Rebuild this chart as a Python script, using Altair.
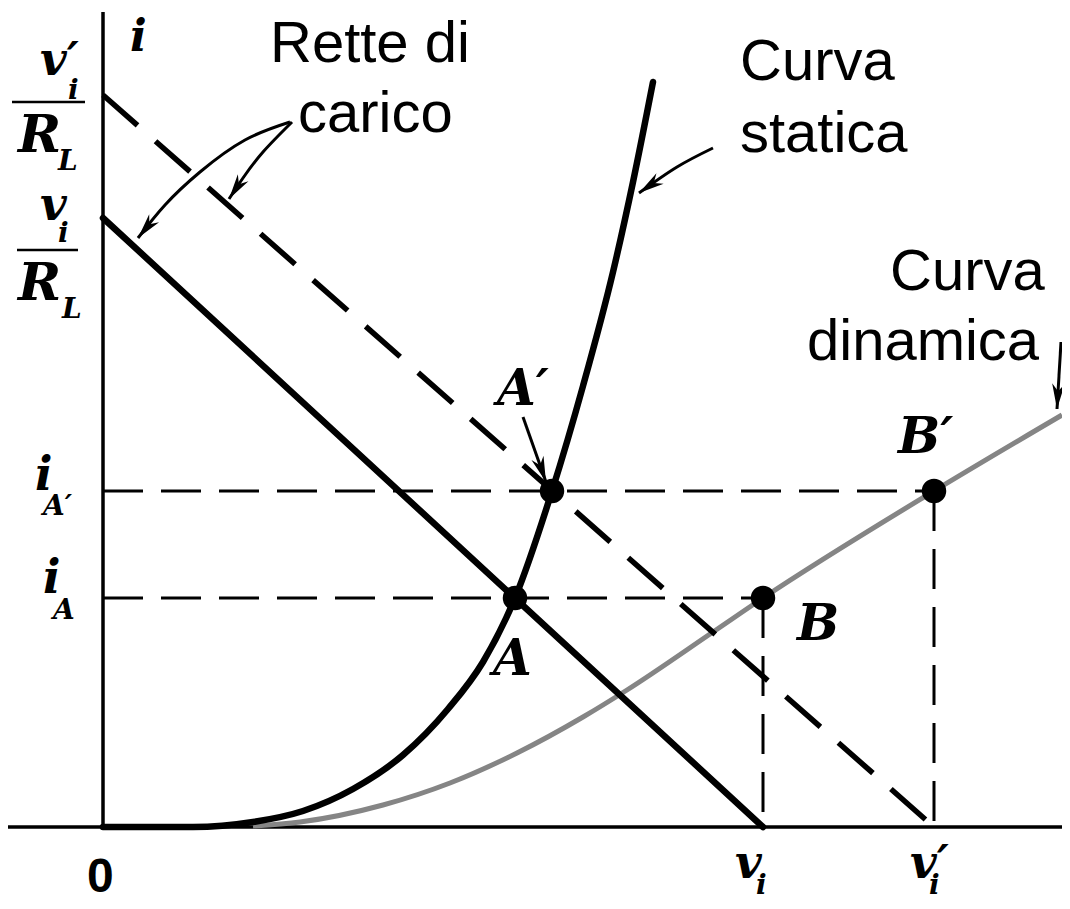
import math
import altair as alt
import pandas as pd

# ---------------- data ----------------
# static characteristic (thick black)
STATIC_X = [0, 90, 150, 200, 250, 300, 345, 380, 412, 449, 480, 510, 530, 550]
STATIC_Y = [0, 0, 5, 16, 38, 72, 118, 165, 229, 336, 441, 555, 645, 745]
# dynamic characteristic (grey)
DYN_X = [150, 197, 280, 347, 414, 480, 524, 610, 660, 831, 959]
DYN_Y = [1, 5, 22, 44, 74, 110, 137, 195, 229, 336, 412]

# load lines
VI, VI_P = 660, 831          # v_i , v_i'
VI_RL, VI_P_RL = 609, 732    # v_i/R_L , v_i'/R_L
I_A, I_AP = 229, 336         # i_A , i_A'

# operating points
POINT_X = [412, 449, 660, 831]
POINT_Y = [229, 336, 229, 336]

# annotation arrows
ARROWS = [
    ([187, 142, 97, 62, 35], [705, 687, 655, 622, 589]),
    ([189, 160, 140, 126], [705, 675, 649, 628]),
    ([420, 443], [410, 345]),
    ([610, 574, 536], [679, 660, 634]),
    ([958, 954], [485, 418]),
]

# plain (sans) labels
SANS_TEXT = ["Rette di", "carico", "Curva", "statica", "Curva", "dinamica"]
SANS_X = [167, 195, 637, 637, 787, 704]
SANS_Y = [765, 695, 747, 675, 537, 467]

# math (bold italic serif) labels
MATH_TEXT = ["i", "v′", "v", "i", "i", "v", "v′",
             "A", "A′", "B", "B′", "R", "R",
             "i", "L", "i", "L", "A′", "A", "i", "i"]
MATH_X = [27, -63, -63, -68, -60, 632, 807,
          390, 394, 694, 795, -85, -85,
          -35, -45, -45, -41, -60, -50, 653, 826]
MATH_Y = [776, 752, 607, 337, 234, -51, -51,
          152, 422, 187, 374, 675, 527,
          728, 657, 585, 509, 312, 208, -67, -67]
MATH_SIZE = [44, 46, 46, 46, 46, 46, 46,
             50, 50, 50, 50, 52, 52,
             28, 28, 28, 28, 28, 28, 28, 28]

# fraction bars on the i axis
FRAC_X = [-91, -86]
FRAC_X2 = [-18, -25]
FRAC_Y = [725, 577]

# ---------------- scales ----------------
W, H = 1054, 893
XS = alt.Scale(domain=[-95, 959], nice=False, zero=False)
YS = alt.Scale(domain=[-74, 819], nice=False, zero=False)


def xe(f="x"):
    return alt.X(f"{f}:Q", scale=XS, axis=None)


def ye(f="y"):
    return alt.Y(f"{f}:Q", scale=YS, axis=None)


layers = []

# axes
axes_df = pd.DataFrame({"x": [0, -95], "x2": [0, 959], "y": [0, 0], "y2": [815, 0]})
layers.append(alt.Chart(axes_df).mark_rule(color="black", strokeWidth=3.5).encode(
    x=xe(), x2="x2:Q", y=ye(), y2="y2:Q"))

# thin dashed projection lines
proj_df = pd.DataFrame({
    "x": [0, 0, VI, VI_P], "x2": [VI, VI_P, VI, VI_P],
    "y": [I_A, I_AP, I_A, I_AP], "y2": [I_A, I_AP, 0, 0]})
layers.append(alt.Chart(proj_df).mark_rule(color="black", strokeWidth=3, strokeDash=[40, 18]).encode(
    x=xe(), x2="x2:Q", y=ye(), y2="y2:Q"))

# dynamic curve (grey)
dyn_df = pd.DataFrame({"x": DYN_X, "y": DYN_Y})
layers.append(alt.Chart(dyn_df).mark_line(color="#858585", strokeWidth=5, interpolate="monotone").encode(
    x=xe(), y=ye()))

# load lines
solid_df = pd.DataFrame({"x": [0, VI], "y": [VI_RL, 0]})
layers.append(alt.Chart(solid_df).mark_line(color="black", strokeWidth=6.5, strokeCap="round").encode(
    x=xe(), y=ye()))
dash_df = pd.DataFrame({"x": [0, VI_P], "y": [VI_P_RL, 0]})
layers.append(alt.Chart(dash_df).mark_line(color="black", strokeWidth=5.5, strokeDash=[46, 24]).encode(
    x=xe(), y=ye()))

# static curve
stat_df = pd.DataFrame({"x": STATIC_X, "y": STATIC_Y})
layers.append(alt.Chart(stat_df).mark_line(color="black", strokeWidth=6.5, interpolate="monotone",
                                           strokeCap="round").encode(x=xe(), y=ye()))

# operating points
pts_df = pd.DataFrame({"x": POINT_X, "y": POINT_Y})
layers.append(alt.Chart(pts_df).mark_point(filled=True, color="black", size=600, opacity=1,
                                           shape="circle").encode(x=xe(), y=ye()))

# arrows: shafts
rows = []
heads = []
for k, (ax, ay) in enumerate(ARROWS):
    for i, (px, py) in enumerate(zip(ax, ay)):
        rows.append({"x": px, "y": py, "arrow": k, "i": i})
    dx = ax[-1] - ax[-2]
    dy = ay[-1] - ay[-2]
    ang = math.degrees(math.atan2(dx, dy)) % 360
    heads.append({"x": ax[-1], "y": ay[-1], "ang": ang})
arr_df = pd.DataFrame(rows)
layers.append(alt.Chart(arr_df).mark_line(color="black", strokeWidth=3, interpolate="natural").encode(
    x=xe(), y=ye(), detail="arrow:N", order="i:Q"))
head_df = pd.DataFrame(heads)
layers.append(alt.Chart(head_df).mark_point(
    filled=True, color="black", opacity=1, size=650,
    shape="M0,0L-0.5,2L0,1.4L0.5,2Z").encode(
    x=xe(), y=ye(), angle=alt.Angle("ang:Q", scale=None)))

# fraction bars
frac_df = pd.DataFrame({"x": FRAC_X, "x2": FRAC_X2, "y": FRAC_Y})
layers.append(alt.Chart(frac_df).mark_rule(color="black", strokeWidth=2.5).encode(
    x=xe(), x2="x2:Q", y=ye()))

# sans labels
sans_df = pd.DataFrame({"t": SANS_TEXT, "x": SANS_X, "y": SANS_Y})
layers.append(alt.Chart(sans_df).mark_text(
    font="Liberation Sans", fontSize=58, align="left", baseline="alphabetic", color="black").encode(
    x=xe(), y=ye(), text="t:N"))

# origin label
zero_df = pd.DataFrame({"t": ["0"], "x": [-16], "y": [-65]})
layers.append(alt.Chart(zero_df).mark_text(
    font="Liberation Sans", fontWeight="bold", fontSize=48, align="left", baseline="alphabetic",
    color="black").encode(x=xe(), y=ye(), text="t:N"))

# math labels
math_df = pd.DataFrame({"t": MATH_TEXT, "x": MATH_X, "y": MATH_Y, "s": MATH_SIZE})
layers.append(alt.Chart(math_df).mark_text(
    font="DejaVu Serif", fontStyle="italic", fontWeight="bold", align="left",
    baseline="alphabetic", color="black").encode(
    x=xe(), y=ye(), text="t:N", size=alt.Size("s:Q", scale=None)))

chart = alt.layer(*layers).properties(
    width=W, height=H, padding=0, autosize=alt.AutoSizeParams(type="none")
).configure_view(strokeWidth=0)

chart.save("out.html", embed_options={"renderer": "svg", "actions": False})
